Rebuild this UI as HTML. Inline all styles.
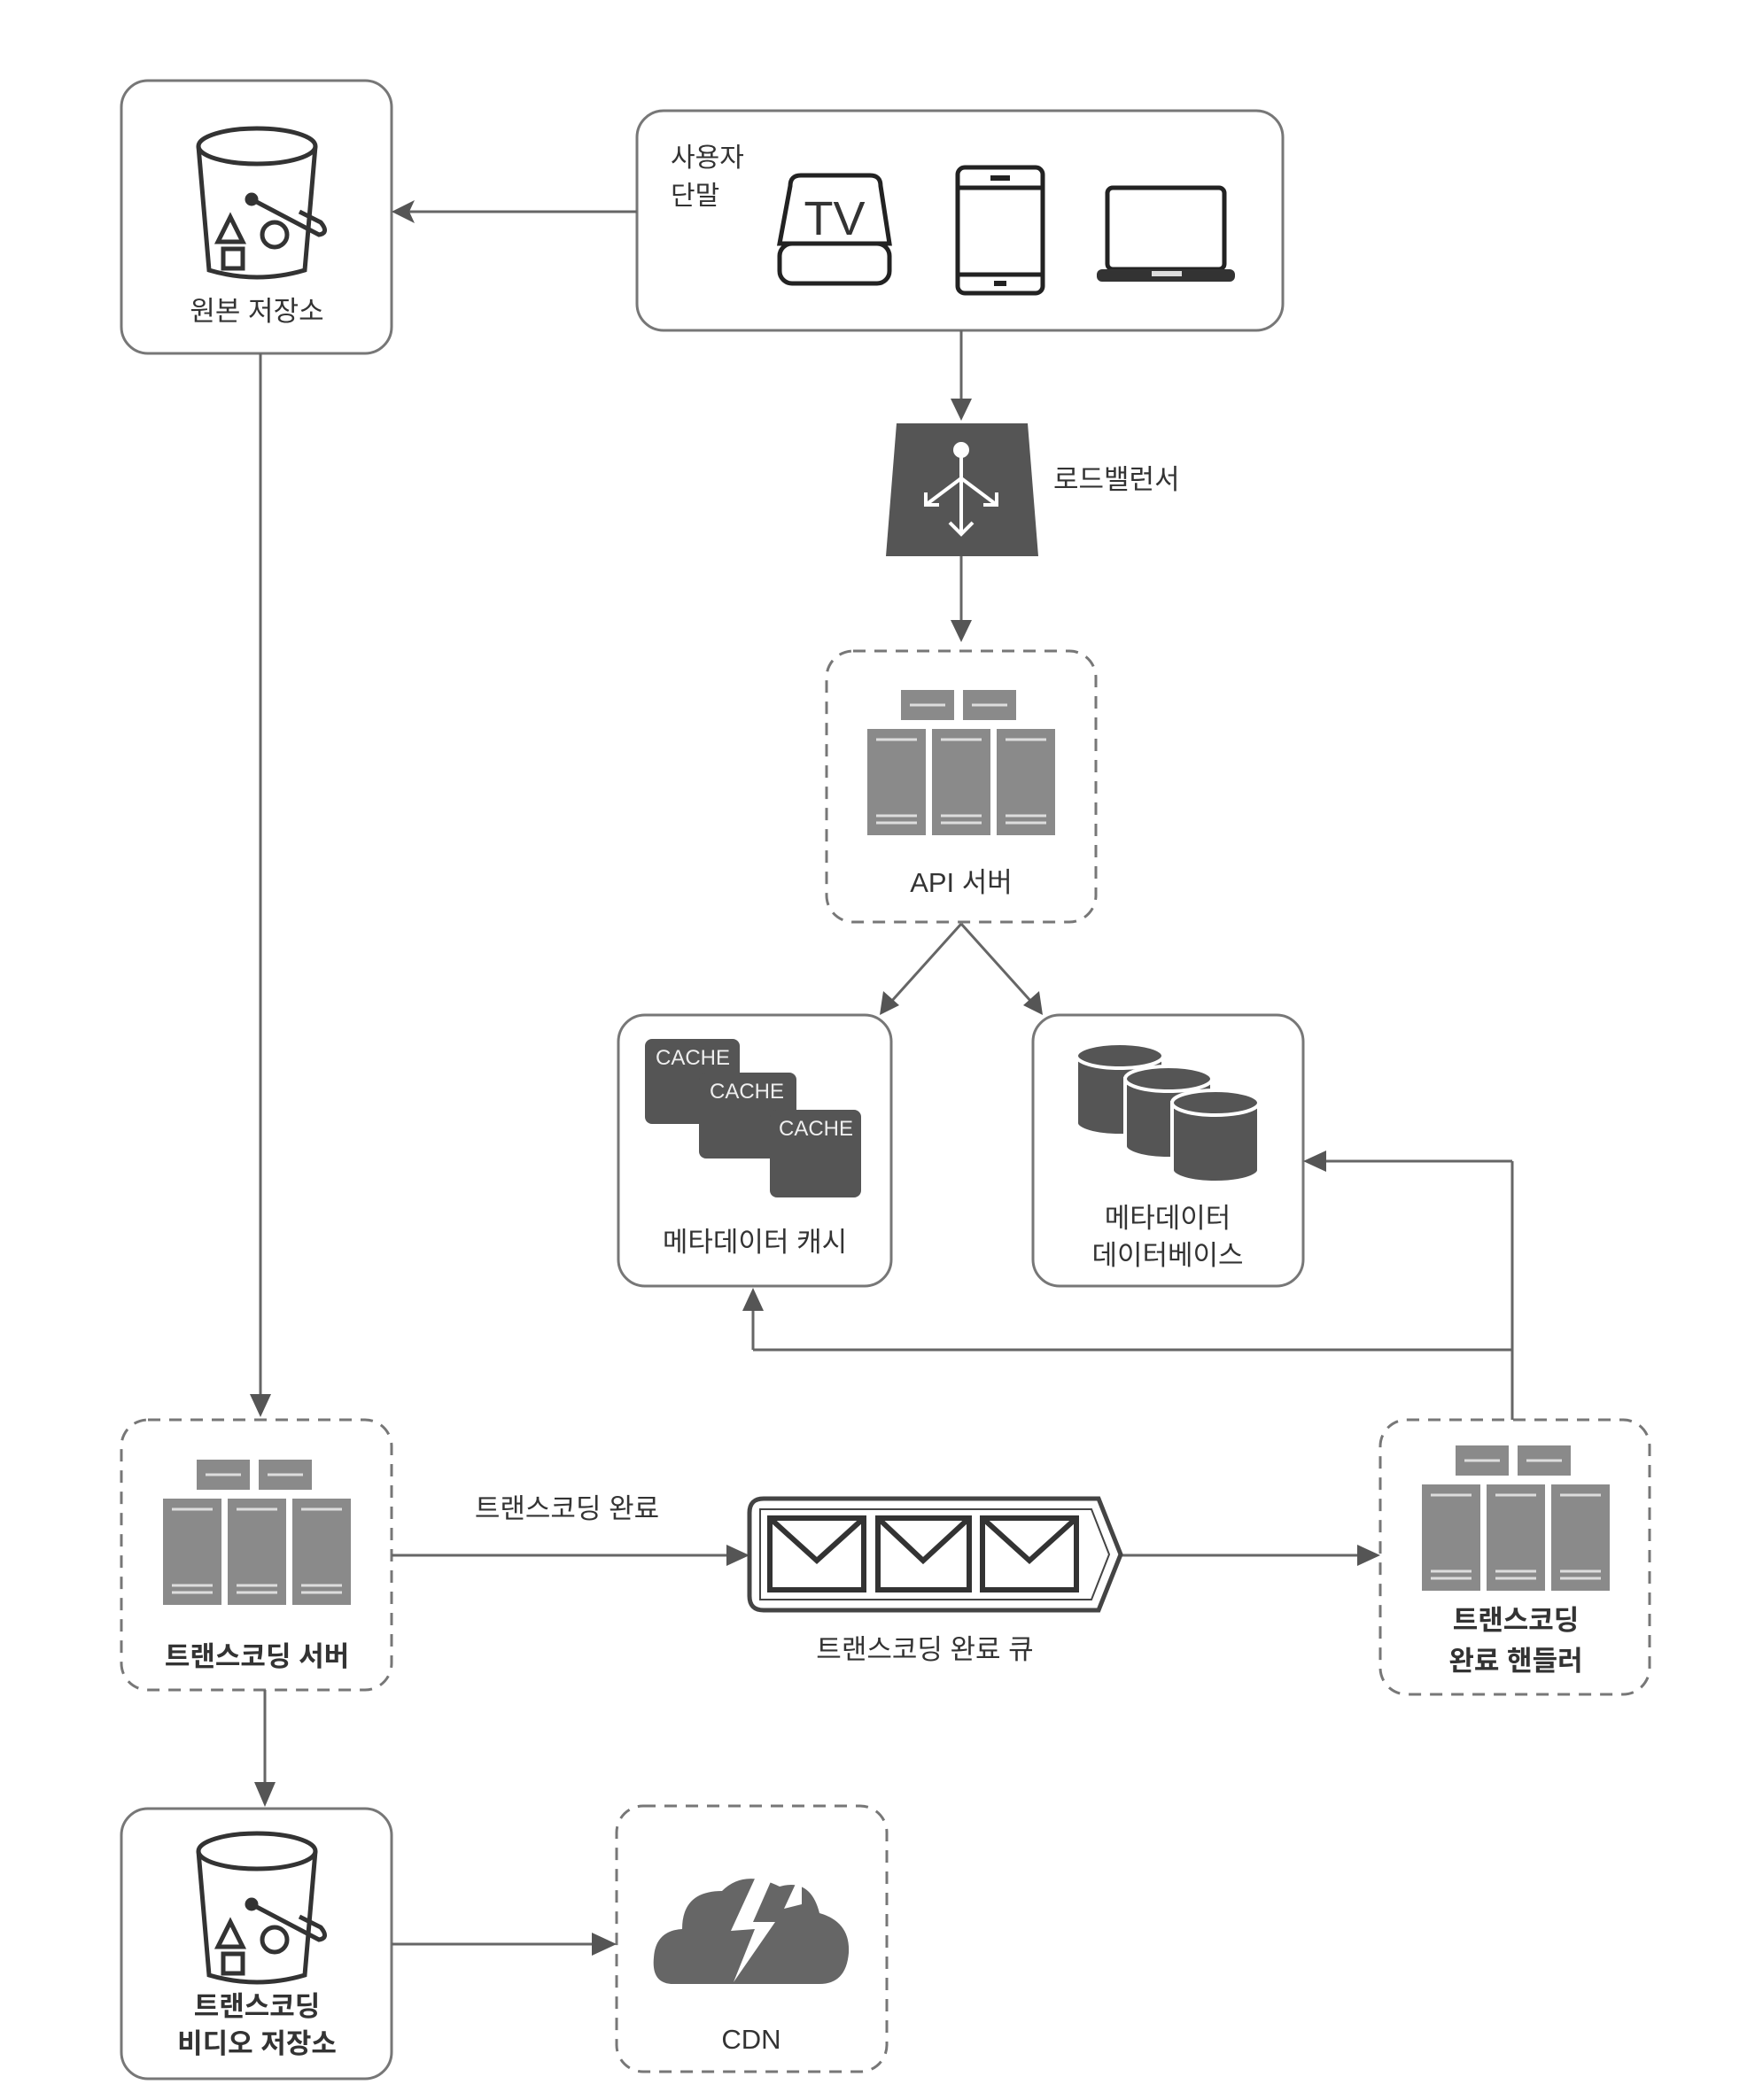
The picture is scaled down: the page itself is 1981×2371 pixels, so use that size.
<!DOCTYPE html>
<html><head><meta charset="utf-8"><style>
html,body{margin:0;padding:0;background:#fff}
svg{display:block}
text{font-family:"Liberation Sans","Noto Sans CJK KR",sans-serif;fill:#333}
</style></head><body>
<svg width="1981" height="2371" viewBox="0 0 1981 2371" xmlns="http://www.w3.org/2000/svg">
<defs>
<marker id="ah" markerWidth="10" markerHeight="10" refX="9" refY="5" orient="auto" markerUnits="userSpaceOnUse" viewBox="0 0 10 10">
</marker>
<g id="srv">
<rect x="-68" y="-44" width="60" height="34" fill="#8a8a8a"/>
<rect x="2" y="-44" width="60" height="34" fill="#8a8a8a"/>
<line x1="-58" y1="-27" x2="-18" y2="-27" stroke="#ddd" stroke-width="3"/>
<line x1="12" y1="-27" x2="52" y2="-27" stroke="#ddd" stroke-width="3"/>
<rect x="-106" y="0" width="66" height="120" fill="#8a8a8a"/>
<rect x="-33" y="0" width="66" height="120" fill="#8a8a8a"/>
<rect x="40" y="0" width="66" height="120" fill="#8a8a8a"/>
<g stroke="#ddd" stroke-width="3">
<line x1="-96" y1="12" x2="-50" y2="12"/><line x1="-23" y1="12" x2="23" y2="12"/><line x1="50" y1="12" x2="96" y2="12"/>
<line x1="-96" y1="98" x2="-50" y2="98"/><line x1="-23" y1="98" x2="23" y2="98"/><line x1="50" y1="98" x2="96" y2="98"/>
<line x1="-96" y1="106" x2="-50" y2="106"/><line x1="-23" y1="106" x2="23" y2="106"/><line x1="50" y1="106" x2="96" y2="106"/>
</g>
</g>
<g id="bucket" fill="none" stroke="#333" stroke-width="5">
<ellipse cx="0" cy="0" rx="66" ry="20"/>
<path d="M-66 0 L-54 140 Q0 156 54 140 L66 0"/>
<path d="M-30 80 L-44 108 L-16 108 Z"/>
<rect x="-38" y="116" width="22" height="22"/>
<circle cx="20" cy="100" r="14"/>
<path d="M-6 60 L70 100 Q82 98 72 86 L48 74"/>
<circle cx="-6" cy="60" r="5" fill="#333"/>
</g>
</defs>

<g fill="none" stroke="#777" stroke-width="3">
<rect x="137" y="91" width="305" height="308" rx="30"/>
<rect x="719" y="125" width="729" height="248" rx="30"/>
<rect x="698" y="1146" width="308" height="306" rx="30"/>
<rect x="1166" y="1146" width="305" height="306" rx="30"/>
<rect x="137" y="2042" width="305" height="305" rx="30"/>
</g>
<g fill="none" stroke="#777" stroke-width="3" stroke-dasharray="14 10">
<rect x="933" y="735" width="304" height="306" rx="30"/>
<rect x="137" y="1603" width="305" height="305" rx="30"/>
<rect x="1558" y="1603" width="304" height="310" rx="30"/>
<rect x="696" y="2039" width="305" height="300" rx="30"/>
</g>

<!-- connectors -->
<g stroke="#666" stroke-width="3" fill="none">
<line x1="719" y1="239" x2="460" y2="239"/>
<line x1="1085" y1="373" x2="1085" y2="460"/>
<line x1="1085" y1="628" x2="1085" y2="710"/>
<line x1="1085" y1="1043" x2="1005" y2="1132"/>
<line x1="1085" y1="1043" x2="1165" y2="1132"/>
<line x1="294" y1="399" x2="294" y2="1580"/>
<line x1="442" y1="1756" x2="825" y2="1756"/>
<line x1="1265" y1="1756" x2="1540" y2="1756"/>
<line x1="1707" y1="1603" x2="1707" y2="1311"/>
<line x1="1707" y1="1311" x2="1495" y2="1311"/>
<line x1="1707" y1="1524" x2="850" y2="1524"/>
<line x1="850" y1="1524" x2="850" y2="1475"/>
<line x1="299" y1="1908" x2="299" y2="2015"/>
<line x1="442" y1="2195" x2="675" y2="2195"/>
</g>
<g fill="#555">
<path d="M442 239 L468 226 L462 239 L468 252 Z"/>
<path d="M1085 475 L1073 450 L1097 450 Z"/>
<path d="M1085 725 L1073 700 L1097 700 Z"/>
<path d="M993 1146 L997 1119 L1015 1135 Z"/>
<path d="M1177 1146 L1155 1135 L1173 1119 Z"/>
<path d="M294 1600 L282 1574 L306 1574 Z"/>
<path d="M846 1756 L820 1744 L820 1768 Z"/>
<path d="M1558 1756 L1532 1744 L1532 1768 Z"/>
<path d="M1471 1311 L1497 1299 L1497 1323 Z"/>
<path d="M850 1454 L838 1480 L862 1480 Z"/>
<path d="M299 2040 L287 2012 L311 2012 Z"/>
<path d="M696 2195 L668 2182 L668 2208 Z"/>
</g>

<!-- buckets -->
<use href="#bucket" x="290" y="165"/>
<use href="#bucket" x="290" y="2090"/>
<text x="290" y="362" font-size="31" text-anchor="middle">원본 저장소</text>
<text x="290" y="2276" font-size="31" text-anchor="middle" font-weight="bold">트랜스코딩</text>
<text x="290" y="2318" font-size="31" text-anchor="middle" font-weight="bold">비디오 저장소</text>

<!-- devices -->
<text x="757" y="188" font-size="30">사용자</text>
<text x="757" y="231" font-size="30">단말</text>
<g fill="none" stroke="#222" stroke-width="5">
<path d="M892 210 Q892 198 904 198 L982 198 Q994 198 994 210 L1004 275 L880 275 Z"/>
<rect x="880" y="275" width="124" height="45" rx="14"/>
<rect x="1081" y="189" width="96" height="142" rx="8"/>
<line x1="1081" y1="212" x2="1177" y2="212"/>
<line x1="1081" y1="310" x2="1177" y2="310"/>
<rect x="1250" y="212" width="132" height="92" rx="6"/>
</g>
<text x="942" y="265" font-size="54" text-anchor="middle" fill="#222">TV</text>
<rect x="1118" y="198" width="22" height="6" fill="#222"/>
<rect x="1122" y="317" width="14" height="6" fill="#222"/>
<rect x="1238" y="304" width="156" height="14" rx="6" fill="#333"/>
<rect x="1300" y="306" width="34" height="6" fill="#ddd"/>

<!-- load balancer -->
<path d="M1012 478 L1160 478 L1172 628 L1000 628 Z" fill="#555"/>
<g stroke="#fff" stroke-width="4" fill="none">
<circle cx="1085" cy="508" r="7" fill="#fff"/>
<line x1="1085" y1="515" x2="1085" y2="600"/>
<line x1="1085" y1="540" x2="1045" y2="570"/>
<line x1="1085" y1="540" x2="1125" y2="570"/>
<path d="M1072 590 L1085 603 L1098 590"/>
<path d="M1045 556 L1045 570 L1060 570"/>
<path d="M1110 570 L1125 570 L1125 556"/>
</g>
<text x="1189" y="552" font-size="31">로드밸런서</text>

<!-- API server -->
<use href="#srv" x="1085" y="823"/>
<text x="1085" y="1007" font-size="31" text-anchor="middle">API 서버</text>

<!-- cache -->
<g fill="#555">
<rect x="728" y="1173" width="107" height="96" rx="8"/>
<rect x="789" y="1211" width="110" height="97" rx="8"/>
<rect x="869" y="1253" width="103" height="99" rx="8"/>
</g>
<g font-size="24" fill="#eee" style="fill:#eee">
<text x="740" y="1202" style="fill:#eee">CACHE</text>
<text x="801" y="1240" style="fill:#eee">CACHE</text>
<text x="879" y="1282" style="fill:#eee">CACHE</text>
</g>
<text x="852" y="1413" font-size="31" text-anchor="middle">메타데이터 캐시</text>

<!-- db -->
<g fill="#555" stroke="#fff" stroke-width="4">
<path d="M1215 1192 L1215 1268 A49 14 0 0 0 1313 1268 L1313 1192 Z"/><ellipse cx="1264" cy="1192" rx="49" ry="14"/>
<path d="M1270 1218 L1270 1294 A49 14 0 0 0 1368 1294 L1368 1218 Z"/><ellipse cx="1319" cy="1218" rx="49" ry="14"/>
<path d="M1323 1245 L1323 1321 A49 14 0 0 0 1421 1321 L1421 1245 Z"/><ellipse cx="1372" cy="1245" rx="49" ry="14"/>
</g>
<text x="1318" y="1386" font-size="31" text-anchor="middle">메타데이터</text>
<text x="1318" y="1428" font-size="31" text-anchor="middle">데이터베이스</text>

<!-- transcoding server -->
<use href="#srv" x="290" y="1692"/>
<text x="290" y="1881" font-size="31" text-anchor="middle" font-weight="bold">트랜스코딩 서버</text>
<text x="640" y="1714" font-size="31" text-anchor="middle">트랜스코딩 완료</text>

<!-- queue -->
<path d="M862 1692 L1240 1692 L1265 1755 L1240 1818 L862 1818 Q846 1818 846 1802 L846 1708 Q846 1692 862 1692 Z" fill="none" stroke="#444" stroke-width="5"/>
<path d="M858 1704 L1232 1704 L1252 1755 L1232 1806 L858 1806 Z" fill="none" stroke="#444" stroke-width="2"/>
<g fill="none" stroke="#333" stroke-width="6">
<rect x="869" y="1714" width="106" height="81"/><path d="M869 1714 L922 1762 L975 1714"/>
<rect x="991" y="1714" width="103" height="81"/><path d="M991 1714 L1042 1762 L1094 1714"/>
<rect x="1109" y="1714" width="106" height="81"/><path d="M1109 1714 L1162 1762 L1215 1714"/>
</g>
<text x="1044" y="1873" font-size="31" text-anchor="middle">트랜스코딩 완료 큐</text>

<!-- handler -->
<use href="#srv" x="1711" y="1676"/>
<text x="1711" y="1840" font-size="31" text-anchor="middle" font-weight="bold">트랜스코딩</text>
<text x="1711" y="1886" font-size="31" text-anchor="middle" font-weight="bold">완료 핸들러</text>

<!-- CDN -->
<path d="M760 2240 Q735 2240 738 2210 Q740 2180 770 2178 Q770 2135 815 2135 Q840 2110 880 2130 Q915 2120 925 2160 Q960 2170 958 2205 Q955 2240 925 2240 Z" fill="#666"/>
<path d="M858 2108 L825 2180 L852 2178 L828 2238 L875 2170 L850 2170 L872 2120 Z" fill="#fff"/>
<path d="M905 2112 L885 2155 L905 2150 Z" fill="#fff"/>
<text x="848" y="2313" font-size="31" text-anchor="middle">CDN</text>
</svg>
</body></html>
